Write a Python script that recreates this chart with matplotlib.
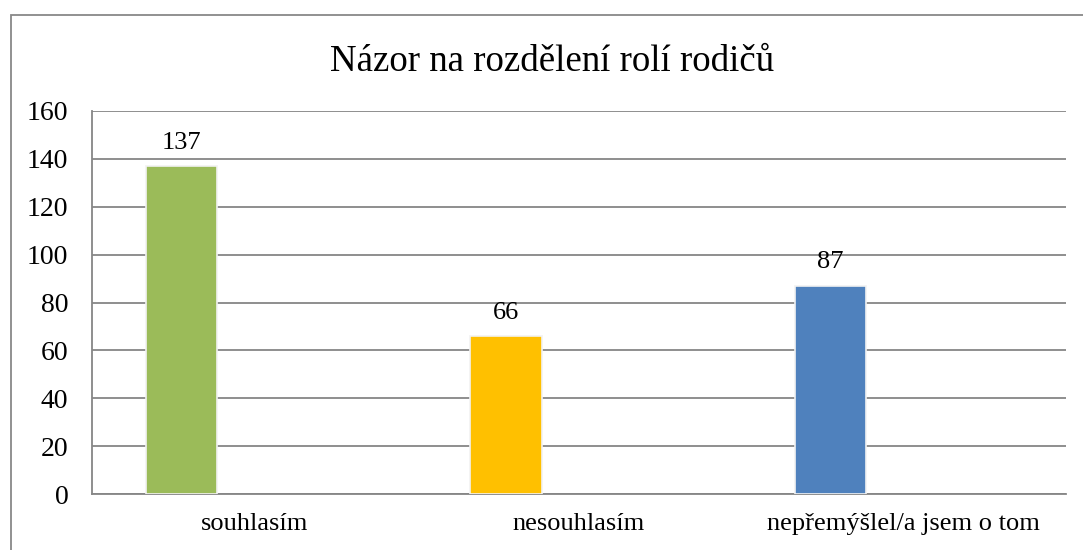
import matplotlib
matplotlib.use("Agg")
import matplotlib.pyplot as plt
from matplotlib.patches import Rectangle
import numpy as np

categories = ["souhlasím", "nesouhlasím", "nepřemýšlel/a jsem o tom"]
values = [137, 66, 87]
colors = ["#9BBB59", "#FFC000", "#4F81BD"]
yticks = [0, 20, 40, 60, 80, 100, 120, 140, 160]
title = "Názor na rozdělení rolí rodičů"

plt.rcParams['font.family'] = ['Liberation Serif', 'DejaVu Serif']

W, H = 1083, 550
fig = plt.figure(figsize=(W / 100, H / 100), dpi=100)

# outer chart border
fig.patches.append(Rectangle((11 / W, -0.1), 1.2, (H - 15) / H + 0.1, transform=fig.transFigure,
                             fill=False, edgecolor="#888888", linewidth=1.3))

ax = fig.add_axes([92 / W, (H - 494) / H, (1066 - 92) / W, (494 - 111) / H])
x = np.arange(len(categories))
ax.bar(x - 0.225, values, width=0.22, color=colors, edgecolor="#f2f2f2", linewidth=1.2, zorder=3)
ax.set_xlim(-0.5, len(categories) - 0.5)
ax.set_ylim(0, 160)
ax.set_yticks(yticks)
ax.set_xticks(x)
ax.set_xticklabels(categories, fontsize=19)
ax.tick_params(axis='y', labelsize=20, length=0, pad=17)
ax.tick_params(axis='x', length=0, pad=14)
ax.grid(axis='y', color="#868686", linewidth=1.3, zorder=0)
for s in ["top", "right"]:
    ax.spines[s].set_visible(False)
ax.spines["left"].set_color("#868686")
ax.spines["left"].set_linewidth(1.3)
ax.spines["bottom"].set_color("#868686")
ax.spines["bottom"].set_linewidth(1.3)

for xi, v in zip(x, values):
    ax.annotate(str(v), (xi - 0.225, v), xytext=(0, 9), textcoords="offset points",
                ha="center", va="bottom", fontsize=19)

fig.text(552 / W, (H - 62) / H, title, ha="center", va="center", fontsize=26.6)

fig.savefig("out.png", dpi=100)
